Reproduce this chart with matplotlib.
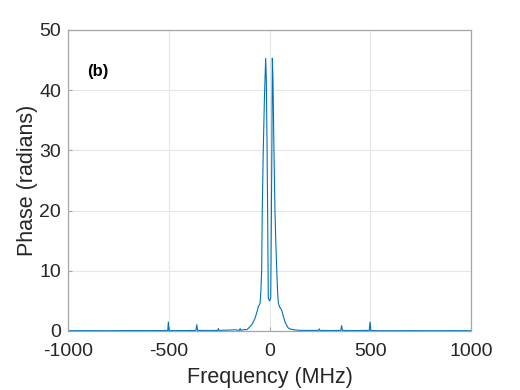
import matplotlib
matplotlib.use("Agg")
import matplotlib.pyplot as plt

# Frequency (MHz) and phase (radians)
freq_mhz = [-1000, -900, -800, -700, -600, -520, -505, -502, -499, -490,
            -420, -365, -361, -357, -300, -257, -254, -251, -200, -170,
            -150, -146, -142, -125, -113, -97, -85, -72, -62, -56,
            -50, -47, -43, -39, -36, -31, -25, -19, -16, -12,
            -9, -6, -3, 0, 3, 6, 9, 12, 14, 17,
            22, 27, 31, 36, 40, 44, 50, 60, 68, 77,
            86, 93, 105, 120, 150, 200, 244, 247, 250, 300,
            354, 358, 362, 420, 495, 499, 503, 520, 600, 700,
            800, 900, 1000]
phase_rad = [0.05, 0.06, 0.05, 0.07, 0.06, 0.08, 0.1, 1.5, 0.1, 0.06,
             0.07, 0.1, 1.05, 0.1, 0.08, 0.1, 0.4, 0.1, 0.15, 0.2,
             0.1, 0.4, 0.1, 0.25, 0.2, 0.7, 1.2, 2.1, 3.2, 4.0,
             4.4, 4.6, 6.5, 10, 20, 30, 39, 45.3, 42, 30,
             18, 5.5, 5.2, 5.0, 5.2, 5.5, 18, 32, 45.3, 42,
             30, 20, 15, 10, 6.5, 4.6, 4.0, 3.5, 2.5, 1.5,
             0.9, 0.5, 0.3, 0.2, 0.1, 0.1, 0.1, 0.35, 0.1, 0.08,
             0.1, 0.9, 0.1, 0.07, 0.1, 1.5, 0.1, 0.06, 0.05, 0.06,
             0.05, 0.06, 0.05]

x_ticks = [-1000, -500, 0, 500, 1000]
y_ticks = [0, 10, 20, 30, 40, 50]

plt.rcParams['font.family'] = ['Liberation Sans', 'DejaVu Sans']

fig = plt.figure(figsize=(5.2, 3.9), dpi=100)
ax = fig.add_axes([0.1308, 0.1513, 0.775, 0.7718])

ax.plot(freq_mhz, phase_rad, color='#0072BD', linewidth=0.8)

ax.set_xlim(-1000, 1000)
ax.set_ylim(0, 50)
ax.set_xticks(x_ticks)
ax.set_yticks(y_ticks)
ax.set_xticklabels([str(v) for v in x_ticks])
ax.grid(True, color='#e6e6e6', linewidth=0.8)
ax.set_axisbelow(True)

for s in ax.spines.values():
    s.set_color('#a6a6a6')
    s.set_linewidth(0.9)

ax.tick_params(direction='in', length=3, color='#a6a6a6', labelsize=14,
               labelcolor='#262626', top=False, right=False)
ax.tick_params(axis='x', pad=9)
ax.tick_params(axis='y', pad=5)
ax.set_xlabel('Frequency (MHz)', fontsize=15.5, color='#262626', labelpad=5)
ax.set_ylabel('Phase (radians)', fontsize=15.5, color='#262626', labelpad=1)

ax.text(-906, 43.1, '(b)', fontsize=12, fontweight='bold', color='black',
        ha='left', va='center')

fig.savefig('out.png', dpi=100)
